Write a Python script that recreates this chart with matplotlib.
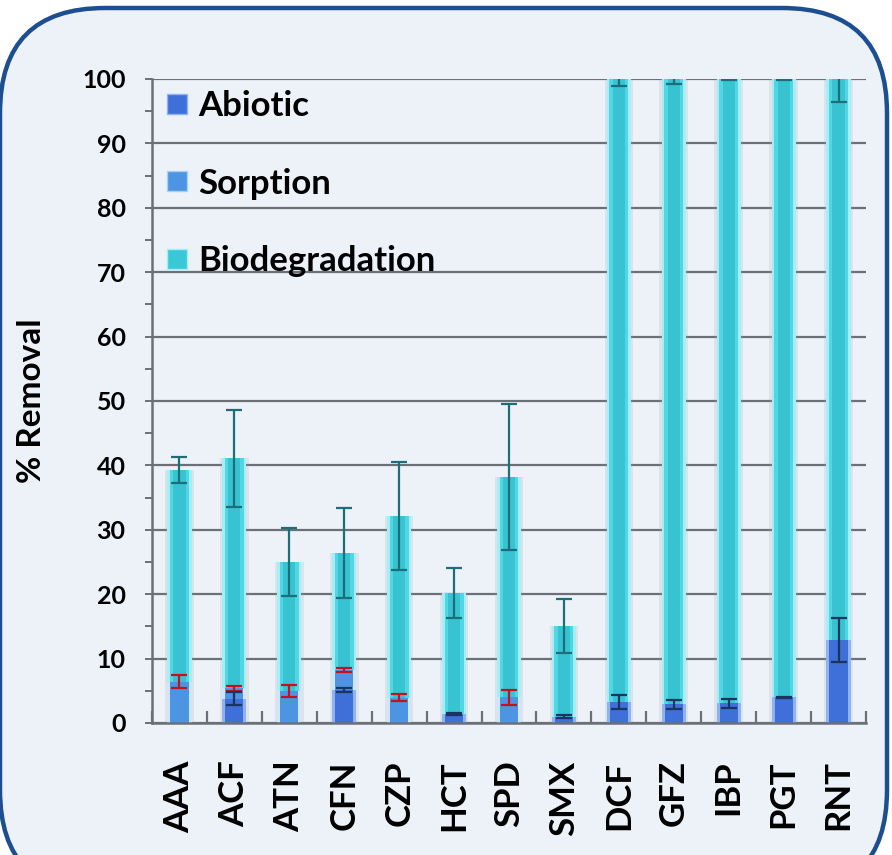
import matplotlib
matplotlib.use("Agg")
import matplotlib.pyplot as plt
import numpy as np
from matplotlib.patches import FancyBboxPatch
from matplotlib.lines import Line2D

categories = ["AAA", "ACF", "ATN", "CFN", "CZP", "HCT", "SPD", "SMX",
              "DCF", "GFZ", "IBP", "PGT", "RNT"]
abiotic = [0, 3.8, 0, 5.1, 0, 1.4, 0, 1.0, 3.3, 2.9, 3.1, 4.0, 12.9]
abiotic_err = [0, 1.0, 0, 0.3, 0, 0.15, 0, 0.2, 1.1, 0.7, 0.7, 0.1, 3.4]
sorption = [6.4, 1.6, 5.0, 3.1, 3.9, 0, 4.0, 0, 0, 0, 0, 0, 0]
sorption_err = [1.0, 0.4, 0.9, 0.35, 0.55, 0, 1.2, 0, 0, 0, 0, 0, 0]
biodegradation = [32.9, 35.7, 20.0, 18.2, 28.2, 18.8, 34.2, 14.1,
                  96.7, 97.1, 96.9, 96.0, 87.1]
total_err = [2.0, 7.5, 5.3, 7.0, 8.4, 3.9, 11.4, 4.2, 1.1, 0.8, 0.2, 0.2, 3.6]
yticks = [0, 10, 20, 30, 40, 50, 60, 70, 80, 90, 100]

FONT = "Lato"
WEIGHT = "bold"
W, H = 892, 855
fig = plt.figure(figsize=(W / 100, H / 100), dpi=100)
fig.patch.set_facecolor("white")

# rounded background panel
panel = FancyBboxPatch((0, -40), 887, H - 8 + 40,
                       boxstyle="round,pad=0,rounding_size=105",
                       transform=None, facecolor="#edf2f9",
                       edgecolor="#1d4f90", linewidth=3.2, zorder=0)
fig.add_artist(panel)

ax = fig.add_axes([152 / W, 1 - 723 / H, (866 - 152) / W, (723 - 79) / H])
ax.set_facecolor("none")

x = np.arange(len(categories))
ab = np.array(abiotic)
so = np.array(sorption)
bi = np.array(biodegradation)
total = ab + so + bi
bw = 0.44

# shadow
ax.bar(x, total, width=bw + 0.08, color="#9aa3ad", alpha=0.18, zorder=1,
       linewidth=0)

# abiotic
ax.bar(x, ab, width=bw, color="#8fb3ee", zorder=2, linewidth=0)
ax.bar(x, ab, width=bw * 0.75, color="#3f6fd8", zorder=2, linewidth=0)
# sorption
ax.bar(x, so, bottom=ab, width=bw, color="#cfe6f8", zorder=2, linewidth=0)
ax.bar(x, so, bottom=ab, width=bw * 0.75, color="#4d95e3", zorder=2,
       linewidth=0)
# biodegradation
ax.bar(x, bi, bottom=ab + so, width=bw, color="#a4eef6", zorder=2, linewidth=0)
ax.bar(x, bi, bottom=ab + so, width=bw * 0.78, color="#52d6e4", zorder=2,
       linewidth=0)
ax.bar(x, bi, bottom=ab + so, width=bw * 0.5, color="#38c3d2", zorder=2,
       linewidth=0)

# error bars
ekw = dict(fmt="none", capsize=6, elinewidth=1.6, capthick=1.6, zorder=4)
ax.errorbar(x, total, yerr=total_err, ecolor="#1c6f78", **ekw)
sm = so > 0
ax.errorbar(x[sm], (ab + so)[sm], yerr=np.array(sorption_err)[sm],
            ecolor="#c8101c", **ekw)
am = ab > 0
ax.errorbar(x[am], ab[am], yerr=np.array(abiotic_err)[am],
            ecolor="#1a3560", **ekw)

ax.set_xlim(-0.5, len(categories) - 0.5)
ax.set_ylim(0, 100)
ax.set_yticks(yticks)
ax.set_yticklabels([str(t) for t in yticks], fontfamily=FONT,
                   fontweight=WEIGHT, fontsize=18)
ax.set_yticks(np.arange(5, 100, 10), minor=True)
ax.yaxis.grid(True, which="major", color="#6b7077", linewidth=1.6, zorder=1)
ax.set_axisbelow(True)
ax.tick_params(axis="y", which="both", direction="out", length=5,
               color="#6b7077", width=1.4, pad=14)

ax.set_xticks(x)
ax.set_xticklabels(categories, rotation=90, fontfamily=FONT,
                   fontweight=WEIGHT, fontsize=25, va="top", ha="center")
ax.set_xticks(np.arange(-0.5, len(categories), 1.0), minor=True)
ax.tick_params(axis="x", which="major", length=0, pad=27)
ax.tick_params(axis="x", which="minor", direction="in", length=9,
               color="#6b7077", width=1.6)

for s in ["top", "right"]:
    ax.spines[s].set_visible(False)
for s in ["left", "bottom"]:
    ax.spines[s].set_color("#6b7077")
    ax.spines[s].set_linewidth(1.8)

ax.set_ylabel("% Removal", fontfamily=FONT, fontweight=WEIGHT, fontsize=24,
              labelpad=26)

handles = [
    Line2D([], [], marker="s", linestyle="none", markersize=14,
           markerfacecolor="#3f6fd8", markeredgecolor="#8fb3ee"),
    Line2D([], [], marker="s", linestyle="none", markersize=14,
           markerfacecolor="#4d95e3", markeredgecolor="#a8d2f4"),
    Line2D([], [], marker="s", linestyle="none", markersize=14,
           markerfacecolor="#38c8d8", markeredgecolor="#a4eef6"),
]
leg = ax.legend(handles, ["Abiotic", "Sorption", "Biodegradation"],
                loc="upper left", bbox_to_anchor=(-0.018, 1.02), frameon=False,
                prop={"family": FONT, "weight": WEIGHT, "size": 25},
                labelspacing=1.3, handletextpad=0.2, handlelength=0.8,
                borderaxespad=0.3)
leg.set_zorder(5)

fig.savefig("out.png", dpi=100, facecolor="white")
